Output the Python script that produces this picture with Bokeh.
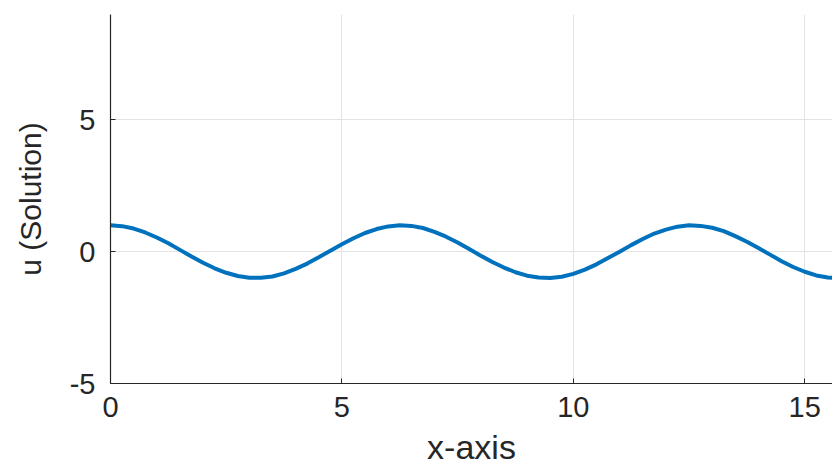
from bokeh.plotting import figure
from bokeh.models import Range1d, FixedTicker
from bokeh.embed import file_html
from bokeh.resources import INLINE

# Data
x_vals = [0.0, 0.25, 0.5, 0.75, 1.0, 1.25, 1.5, 1.75, 2.0, 2.25, 2.5, 2.75,
          3.0, 3.25, 3.5, 3.75, 4.0, 4.25, 4.5, 4.75, 5.0, 5.25, 5.5, 5.75,
          6.0, 6.25, 6.5, 6.75, 7.0, 7.25, 7.5, 7.75, 8.0, 8.25, 8.5, 8.75,
          9.0, 9.25, 9.5, 9.75, 10.0, 10.25, 10.5, 10.75, 11.0, 11.25, 11.5, 11.75,
          12.0, 12.25, 12.5, 12.75, 13.0, 13.25, 13.5, 13.75, 14.0, 14.25, 14.5, 14.75,
          15.0, 15.25, 15.5, 15.7]
u_vals = [1.00, 0.97, 0.88, 0.73, 0.54, 0.32, 0.07, -0.18, -0.42, -0.63, -0.80, -0.92,
          -0.99, -0.99, -0.94, -0.82, -0.65, -0.45, -0.21, 0.04, 0.28, 0.51, 0.71, 0.86,
          0.96, 1.00, 0.98, 0.90, 0.75, 0.57, 0.35, 0.10, -0.15, -0.39, -0.60, -0.78,
          -0.91, -0.98, -1.00, -0.95, -0.84, -0.68, -0.48, -0.24, 0.00, 0.25, 0.48, 0.69,
          0.84, 0.95, 1.00, 0.98, 0.91, 0.78, 0.59, 0.38, 0.14, -0.11, -0.36, -0.58,
          -0.76, -0.90, -0.98, -1.00]

x_ticks = [0, 5, 10, 15]
x_tick_labels = ["0", "5", "10", "15"]
y_ticks = [-5, 0, 5]
y_tick_labels = ["-5", "0", "5"]

x_label = "x-axis"
y_label = "u (Solution)"

FONT = "Liberation Sans"
AX = "#262626"

p = figure(width=832, height=469, output_backend="svg", toolbar_location=None,
           x_range=Range1d(0, 15.6), y_range=Range1d(-5, 9),
           min_border_left=110, min_border_right=0, min_border_top=14,
           min_border_bottom=86)
p.outline_line_color = None
p.background_fill_color = "white"
p.border_fill_color = "white"

p.line(x_vals, u_vals, line_color="#0072BD", line_width=4)

for ax, ticks, labels in ((p.xaxis[0], x_ticks, x_tick_labels), (p.yaxis[0], y_ticks, y_tick_labels)):
    ax.ticker = FixedTicker(ticks=ticks)
    ax.major_label_overrides = {t: l for t, l in zip(ticks, labels)}
    ax.axis_line_color = AX
    ax.axis_line_width = 1.2
    ax.major_tick_line_color = AX
    ax.major_tick_in = 5
    ax.major_tick_out = 0
    ax.minor_tick_line_color = None
    ax.major_label_text_font = FONT
    ax.major_label_text_font_size = "29px"
    ax.major_label_text_color = AX
    ax.axis_label_text_font = FONT
    ax.axis_label_text_font_style = "normal"
    ax.axis_label_text_color = AX

p.xaxis.axis_label = x_label
p.yaxis.axis_label = y_label
p.xaxis.major_label_standoff = 13
p.yaxis.major_label_standoff = 15
p.xaxis.axis_label_text_font_size = "34px"
p.yaxis.axis_label_text_font_size = "30px"
p.xaxis.axis_label_standoff = 8
p.yaxis.axis_label_standoff = 20

p.xgrid.grid_line_color = "#e3e3e3"
p.ygrid.grid_line_color = "#e3e3e3"
p.xgrid.ticker = FixedTicker(ticks=x_ticks)
p.ygrid.ticker = FixedTicker(ticks=y_ticks)

open("out.html", "w").write(file_html(p, INLINE))
